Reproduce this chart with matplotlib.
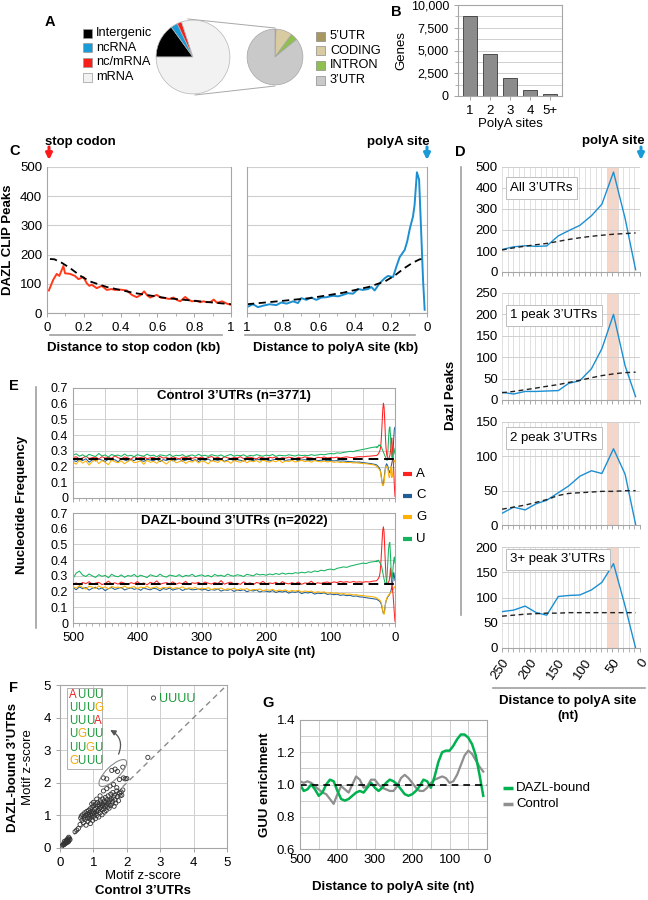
import matplotlib
matplotlib.use('Agg')
import matplotlib.pyplot as plt
from matplotlib.patches import Rectangle, Ellipse, FancyArrowPatch
import numpy as np

plt.rcParams['font.family'] = ['Liberation Sans', 'DejaVu Sans']
plt.rcParams['font.size'] = 9

GRID = '#cfcfcf'
SPINE = '#a6a6a6'

# ---------------- data ----------------
# A: genomic distribution of peaks, and breakdown of mRNA peaks
region_labels = ['Intergenic', 'ncRNA', 'nc/mRNA', 'mRNA']
region_share = [15, 3, 2, 80]
region_colors = ['#000000', '#1b9ad8', '#f5201b', '#f2f2f2']
mrna_labels = ["5’UTR", 'CODING', 'INTRON', "3’UTR"]
mrna_share = [0.6, 9.5, 4.0, 85.9]
mrna_colors = ['#a8975f', '#d9cba1', '#8fbf4e', '#c9c9c9']

# B: polyA sites per gene
polya_sites = ['1', '2', '3', '4', '5+']
polya_genes = [8800, 4650, 1950, 650, 250]

# C: metagene of DAZL CLIP peaks
stop_kb = [0.01, 0.034, 0.053, 0.067, 0.089, 0.098, 0.125, 0.152, 0.171, 0.198,
           0.216, 0.23, 0.243, 0.27, 0.298, 0.325, 0.35, 0.37, 0.40, 0.434,
           0.461, 0.488, 0.51, 0.528, 0.545, 0.561, 0.58, 0.597, 0.62, 0.642,
           0.665, 0.688, 0.705, 0.724, 0.751, 0.77, 0.788, 0.81, 0.833, 0.85,
           0.869, 0.89, 0.906, 0.924, 0.951, 0.978, 1.0]
stop_peaks = [77, 114, 134, 127, 161, 136, 134, 127, 116, 123,
              102, 93, 97, 85, 93, 79, 82, 79, 80, 77,
              62, 54, 62, 74, 60, 53, 58, 62, 52, 51,
              48, 53, 45, 40, 55, 45, 40, 42, 37, 40,
              37, 38, 46, 35, 40, 32, 28]
stop_fit_kb = [0.016, 0.04, 0.08, 0.125, 0.18, 0.234, 0.325, 0.47, 0.65, 0.83, 1.0]
stop_fit = [185, 184, 172, 154, 128, 108, 89, 69, 51, 40, 30]

pa_kb = [0.994, 0.967, 0.939, 0.911, 0.874, 0.837, 0.81, 0.78, 0.744, 0.717,
         0.698, 0.67, 0.643, 0.615, 0.587, 0.56, 0.522, 0.494, 0.467, 0.439,
         0.411, 0.383, 0.356, 0.328, 0.309, 0.291, 0.263, 0.235, 0.217, 0.189,
         0.17, 0.152, 0.124, 0.11, 0.095, 0.078, 0.069, 0.056, 0.044, 0.035,
         0.022, 0.013]
pa_peaks = [22, 30, 20, 25, 30, 27, 36, 32, 40, 34,
            51, 45, 53, 45, 53, 54, 59, 57, 62, 68,
            66, 82, 79, 82, 89, 77, 102, 119, 127, 123,
            159, 191, 216, 245, 290, 330, 370, 482, 457, 319,
            114, 11]
pa_fit_kb = [1.0, 0.83, 0.65, 0.47, 0.325, 0.234, 0.18, 0.125, 0.08, 0.04, 0.01]
pa_fit = [30, 40, 51, 69, 89, 108, 128, 154, 172, 184, 185]

# D: Dazl peaks near polyA site, by number of peaks per 3'UTR
d_nt = [250, 229, 208, 188, 169, 148, 129, 109, 88, 69, 48, 27, 8]
d_all = [107, 120, 125, 122, 124, 172, 197, 222, 268, 323, 476, 255, 11]
d_all_fit = [105, 115, 123, 130, 136, 146, 155, 163, 170, 175, 180, 183, 186]
d_one = [18, 14, 20, 20, 21, 22, 39, 45, 73, 120, 200, 80, 8]
d_one_fit = [17, 20, 24, 28, 32, 36, 41, 46, 52, 57, 61, 64, 65]
d_two = [17, 26, 22, 31, 36, 47, 57, 71, 79, 75, 111, 74, 1]
d_two_fit = [23, 26, 29, 33, 37, 43, 46, 47, 48, 49, 49, 50, 50]
d_three = [72, 75, 83, 70, 65, 102, 104, 105, 115, 130, 167, 83, 0]
d_three_fit = [63, 65, 67, 68, 69, 69, 70, 70, 70, 70, 70, 70, 70]

# E: nucleotide frequency (x1000); 500..30 nt every 5 nt, then 29..0 every nt
e_nt = list(range(500, 29, -5)) + list(range(29, -1, -1))
ctrl_A = [258, 262, 249, 255, 266, 251, 257, 260, 248, 263, 254, 259, 252, 268, 256, 250, 261, 255, 247, 264,
          253, 258, 262, 250, 256, 259, 248, 265, 254, 257, 251, 262, 255, 249, 260, 256, 263, 252, 258, 254,
          261, 250, 257, 264, 253, 259, 248, 262, 256, 251, 258, 255, 263, 250, 257, 260, 254, 249, 261, 256,
          252, 259, 255, 262, 250, 257, 253, 260, 256, 251, 258, 254, 262, 257, 255, 250, 259, 256, 261, 254,
          258, 256, 260, 255, 259, 262, 258, 257, 261, 263, 262, 265, 266, 268, 270,
          270, 272, 276, 280, 288, 296, 308, 336, 395, 478, 560, 603, 580, 500, 400,
          322, 280, 262, 252, 250, 258, 270, 298, 358, 382, 320, 250, 180, 80, 10]
ctrl_C = [240, 232, 246, 238, 250, 228, 243, 236, 248, 241, 233, 247, 239, 244, 230, 249, 242, 235, 245, 238,
          251, 240, 233, 246, 242, 237, 248, 231, 244, 239, 246, 236, 243, 249, 234, 241, 247, 238, 244, 232,
          245, 240, 248, 236, 243, 239, 246, 233, 242, 247, 238, 244, 240, 235, 246, 241, 237, 248, 243, 239,
          244, 236, 242, 247, 240, 245, 238, 243, 241, 246, 237, 242, 244, 239, 241, 243, 238, 240, 242, 237,
          239, 236, 238, 235, 236, 233, 232, 230, 228, 229, 225, 223, 220, 217, 213,
          212, 208, 204, 200, 194, 188, 180, 160, 130, 100, 82, 88, 120, 160, 190,
          208, 218, 210, 200, 180, 170, 160, 180, 200, 220, 240, 300, 380, 440, 450]
ctrl_G = [228, 215, 240, 222, 236, 210, 232, 245, 219, 238, 226, 212, 241, 230, 224, 237, 218, 233, 242, 225,
          229, 236, 214, 240, 227, 233, 221, 239, 230, 216, 235, 243, 224, 231, 238, 220, 234, 228, 241, 223,
          236, 230, 217, 239, 232, 226, 242, 229, 235, 221, 238, 233, 227, 240, 224, 236, 231, 238, 226, 241,
          233, 228, 237, 230, 242, 225, 236, 232, 239, 229, 234, 240, 231, 236, 228, 238, 233, 230, 235, 229,
          233, 227, 230, 226, 228, 225, 227, 223, 224, 221, 220, 218, 215, 212, 207,
          202, 198, 194, 190, 184, 180, 172, 150, 120, 92, 80, 78, 100, 140, 180,
          200, 192, 200, 180, 150, 130, 140, 170, 200, 130, 140, 180, 220, 240, 232]
ctrl_U = [272, 281, 266, 275, 262, 278, 270, 264, 283, 268, 274, 261, 277, 269, 273, 265, 280, 267, 272, 263,
          276, 270, 266, 279, 268, 273, 262, 275, 271, 267, 278, 264, 272, 269, 276, 263, 270, 274, 266, 278,
          268, 272, 265, 276, 270, 267, 274, 263, 271, 277, 266, 272, 269, 275, 264, 271, 268, 276, 270, 266,
          273, 269, 277, 265, 272, 270, 268, 275, 271, 267, 274, 270, 272, 269, 276, 271, 274, 278, 275, 280,
          283, 281, 287, 285, 290, 293, 297, 295, 301, 305, 309, 313, 318, 322, 325,
          320, 328, 322, 330, 338, 332, 338, 330, 322, 312, 302, 292, 282, 272, 262,
          252, 242, 240, 300, 380, 440, 452, 400, 320, 262, 250, 280, 320, 302, 280]
dazl_A = [248, 255, 242, 258, 250, 263, 246, 254, 259, 244, 252, 266, 249, 256, 247, 261, 253, 245, 257, 250,
          264, 248, 255, 243, 259, 251, 268, 246, 253, 257, 249, 262, 247, 255, 250, 265, 244, 256, 252, 259,
          246, 261, 253, 248, 257, 251, 270, 247, 255, 260, 249, 253, 246, 262, 250, 256, 244, 258, 252, 265,
          248, 255, 251, 259, 247, 263, 253, 249, 257, 250, 261, 246, 255, 252, 266, 249, 256, 252, 258, 261,
          254, 262, 257, 265, 259, 263, 258, 264, 260, 262, 259, 263, 261, 266, 268,
          268, 272, 276, 282, 290, 300, 328, 380, 450, 530, 590, 612, 580, 480, 380,
          300, 262, 250, 252, 260, 270, 300, 350, 300, 250, 220, 180, 120, 60, 10]
dazl_C = [224, 212, 230, 218, 226, 209, 221, 228, 215, 223, 206, 219, 225, 213, 220, 227, 210, 218, 224, 214,
          220, 208, 223, 216, 211, 221, 217, 205, 219, 214, 222, 209, 216, 220, 207, 215, 218, 211, 213, 217,
          210, 215, 206, 213, 209, 216, 203, 211, 208, 214, 201, 209, 206, 212, 199, 207, 204, 210, 197, 205,
          202, 198, 206, 194, 201, 197, 203, 190, 198, 195, 200, 187, 194, 191, 196, 184, 190, 187, 192, 182,
          185, 180, 183, 176, 179, 174, 176, 170, 172, 166, 165, 161, 158, 155, 152,
          152, 150, 147, 144, 142, 138, 134, 126, 115, 95, 75, 60, 62, 85, 120,
          138, 150, 160, 168, 172, 178, 186, 195, 210, 228, 250, 280, 320, 300, 270]
dazl_G = [232, 221, 238, 226, 215, 234, 228, 219, 236, 224, 230, 217, 233, 225, 229, 221, 235, 222, 227, 231,
          218, 229, 224, 233, 220, 226, 230, 216, 227, 223, 229, 219, 225, 221, 230, 217, 224, 220, 226, 214,
          222, 218, 225, 212, 220, 216, 223, 211, 218, 214, 221, 209, 217, 213, 219, 207, 214, 211, 217, 205,
          212, 208, 214, 203, 210, 206, 211, 200, 207, 203, 208, 197, 204, 200, 203, 194, 199, 195, 198, 190,
          193, 189, 191, 185, 187, 183, 184, 179, 180, 176, 175, 171, 170, 167, 163,
          160, 158, 155, 152, 150, 146, 142, 135, 125, 105, 80, 60, 55, 75, 110,
          140, 155, 165, 172, 178, 182, 188, 192, 198, 196, 204, 212, 222, 230, 224]
dazl_U = [282, 318, 330, 305, 296, 312, 300, 290, 308, 297, 303, 288, 310, 299, 294, 306, 291, 302, 298, 309,
          293, 304, 297, 289, 307, 300, 295, 311, 298, 292, 305, 301, 296, 308, 293, 303, 299, 310, 295, 302,
          306, 297, 303, 293, 309, 300, 304, 296, 311, 302, 298, 307, 303, 296, 310, 305, 300, 313, 306, 309,
          304, 312, 307, 315, 309, 318, 311, 316, 313, 320, 317, 323, 319, 326, 322, 331, 327, 336, 332, 340,
          343, 338, 348, 352, 357, 354, 362, 366, 372, 376, 381, 378, 386, 389, 392,
          390, 398, 392, 400, 394, 386, 382, 372, 362, 344, 322, 300, 280, 262, 252,
          250, 262, 320, 400, 470, 505, 512, 430, 330, 280, 300, 350, 400, 420, 380]

# F: motif z-scores, control vs DAZL-bound 3'UTRs
motif_ctrl = [0.05, 0.08, 0.10, 0.12, 0.14, 0.15, 0.17, 0.18, 0.20, 0.21, 0.22, 0.24, 0.25, 0.27, 0.28,
              0.30, 0.19, 0.23, 0.26, 0.13, 0.45, 0.50,
              0.55, 0.60, 0.62, 0.64, 0.66, 0.68, 0.70, 0.72, 0.74, 0.75, 0.77, 0.78, 0.80, 0.81, 0.82,
              0.84, 0.85, 0.86, 0.88, 0.89, 0.90, 0.91, 0.92, 0.93, 0.95, 0.96, 0.97, 0.98, 1.00, 1.01,
              1.02, 1.03, 1.05, 1.06, 1.07, 1.08, 1.10, 1.11, 1.12, 1.13, 1.15, 1.16, 1.17, 1.18, 1.20,
              1.21, 1.22, 1.23, 1.25, 1.26, 1.27, 1.28, 1.30, 1.31, 1.32, 1.33, 1.35, 1.36, 1.37, 1.38,
              1.40, 1.41, 1.42, 1.44, 1.45, 1.47, 1.48, 1.50, 1.52, 1.53, 1.55, 1.57, 1.58, 1.60, 1.62,
              1.63, 1.65, 1.67, 1.70, 1.72, 1.75, 1.78, 1.80, 1.83, 1.85, 1.88, 1.90, 1.95, 2.00, 1.40,
              1.30, 1.20, 1.10, 1.50, 1.60, 1.70, 1.00, 0.95,
              1.30, 1.40, 1.55, 1.65, 1.72, 1.78, 1.88, 2.63, 2.80]
motif_dazl = [0.05, 0.09, 0.12, 0.10, 0.16, 0.13, 0.18, 0.15, 0.22, 0.17, 0.20, 0.25, 0.19, 0.23, 0.30,
              0.26, 0.24, 0.28, 0.33, 0.20, 0.50, 0.55,
              0.60, 0.72, 0.92, 0.98, 0.85, 1.02, 0.78, 0.95, 1.08, 0.88, 1.00, 0.70, 1.12, 0.92, 1.05,
              0.82, 1.15, 0.98, 1.08, 0.90, 1.20, 0.75, 1.02, 1.12, 0.95, 1.25, 1.05, 0.85, 1.10, 1.30,
              0.98, 1.18, 1.05, 0.90, 1.22, 1.35, 1.12, 1.00, 1.28, 1.40, 1.15, 0.95, 1.32, 1.22, 1.08,
              1.45, 1.25, 1.38, 1.18, 1.02, 1.30, 1.50, 1.35, 1.20, 1.42, 1.10, 1.28, 1.55, 1.40, 1.15,
              1.32, 1.48, 1.25, 1.60, 1.38, 1.22, 1.45, 1.30, 1.65, 1.50, 1.35, 1.42, 1.70, 1.55, 1.28,
              1.62, 1.48, 1.38, 1.75, 1.58, 1.45, 1.68, 1.60, 1.72, 1.62, 1.78, 2.15, 2.12, 2.13, 1.82,
              1.75, 1.60, 1.50, 1.90, 1.95, 1.85, 1.40, 1.35,
              2.15, 2.12, 2.38, 2.42, 2.35, 2.10, 2.48, 2.78, 4.60]
motif_list = ['AUUU', 'UUUG', 'UUUA', 'UGUU', 'UUGU', 'GUUU']
base_colors = {'A': '#ee2222', 'U': '#1a9a3a', 'G': '#f5a800'}

# G: GUU enrichment near polyA site
guu_nt = list(range(500, 0, -10))
guu_dazl = [1.00, 0.96, 0.97, 1.00, 0.97, 0.93, 0.95, 1.00, 1.03, 1.02,
            0.96, 0.91, 0.90, 0.91, 0.93, 0.95, 0.96, 0.95, 0.98, 1.01,
            0.98, 0.96, 0.98, 1.01, 1.03, 1.02, 1.00, 0.97, 0.94, 0.93,
            0.94, 0.96, 0.99, 1.03, 1.02, 0.98, 1.05, 1.14, 1.20, 1.21,
            1.21, 1.24, 1.28, 1.31, 1.31, 1.29, 1.25, 1.18, 1.06, 0.93]
guu_ctrl = [1.02, 1.01, 1.02, 1.01, 0.99, 0.97, 0.95, 0.94, 0.91, 0.88,
            0.94, 0.99, 0.97, 0.95, 1.00, 1.05, 1.03, 0.98, 0.99, 1.03,
            1.03, 1.00, 0.98, 0.97, 0.96, 0.96, 0.99, 1.04, 1.06, 1.04,
            1.01, 0.98, 0.96, 0.96, 0.98, 1.01, 1.03, 1.04, 1.05, 1.04,
            1.01, 1.02, 1.06, 1.12, 1.18, 1.21, 1.19, 1.15, 1.11, 1.08]


def box(x0, y0, x1, y1):
    # pixel rectangle (origin top-left) -> figure fraction rect
    return [x0 / 648, 1 - y1 / 900, (x1 - x0) / 648, (y1 - y0) / 900]


def gray_spines(ax, which=('left', 'right', 'top', 'bottom')):
    for side, sp in ax.spines.items():
        sp.set_visible(side in which)
        sp.set_color(SPINE)
        sp.set_linewidth(0.8)
    ax.tick_params(colors=SPINE, labelcolor='black', length=3, width=0.7)
    ax.tick_params(which='minor', colors=SPINE, length=2, width=0.6)
    ax.set_axisbelow(True)


fig = plt.figure(figsize=(6.48, 9.0), dpi=100)
ov = fig.add_axes([0, 0, 1, 1])
ov.set_xlim(0, 648)
ov.set_ylim(900, 0)
ov.axis('off')


def label(x, y, s, **kw):
    kw.setdefault('va', 'center')
    ov.text(x, y, s, **kw)


def arrow_down(x, y0, y1, color):
    ov.annotate('', xy=(x, y1), xytext=(x, y0),
                arrowprops=dict(arrowstyle='-|>', color=color, lw=2.2, mutation_scale=9,
                                shrinkA=0, shrinkB=0))


# ---------------- A ----------------
label(50, 22, 'A', fontsize=10.5, fontweight='bold', ha='center')
axp1 = fig.add_axes(box(155, 19, 231, 95))
axp1.pie(region_share, colors=region_colors, startangle=180, counterclock=False,
         wedgeprops=dict(edgecolor='#b5b5b5', linewidth=0.5))
axp1.set_xlim(-1.03, 1.03)
axp1.set_ylim(-1.03, 1.03)
axp2 = fig.add_axes(box(246, 28, 304, 86))
axp2.pie(mrna_share, colors=mrna_colors, startangle=90, counterclock=False,
         wedgeprops=dict(edgecolor='#a5a5a5', linewidth=0.5))
axp2.set_xlim(-1.04, 1.04)
axp2.set_ylim(-1.04, 1.04)
ov.plot([188, 275], [19, 28], color='#a8a8a8', lw=0.7)
ov.plot([195, 275], [95, 86], color='#a8a8a8', lw=0.7)

for i, (name, col) in enumerate(zip(region_labels, region_colors)):
    y = 33 + i * 14.7
    ov.add_patch(Rectangle((83, y - 4.5), 9, 9, fc=col, ec='#9a9a9a', lw=0.5))
    label(96, y, name, fontsize=9.2)
for i, (name, col) in enumerate(zip(mrna_labels, mrna_colors)):
    y = 36 + i * 14.7
    ov.add_patch(Rectangle((316, y - 4.5), 9, 9, fc=col, ec='#8a8a8a', lw=0.5))
    label(330, y, name, fontsize=9.2)

# ---------------- B ----------------
label(396, 12, 'B', fontsize=10.5, fontweight='bold', ha='center')
axb = fig.add_axes(box(458, 5, 562, 96))
axb.bar(polya_sites, polya_genes, width=0.72, color='#8c8c8c', edgecolor='#3a3a3a', lw=0.6)
axb.set_ylim(0, 10000)
axb.set_yticks([0, 2500, 5000, 7500, 10000])
axb.set_yticklabels(['0', '2,500', '5,000', '7,500', '10,000'], fontsize=9)
axb.set_yticks(np.arange(0, 10001, 1250), minor=True)
axb.grid(axis='y', which='both', color=GRID, lw=0.7)
axb.tick_params(axis='x', labelsize=9.5, length=0)
axb.tick_params(axis='y', which='minor', length=0)
gray_spines(axb, ('left', 'right', 'bottom', 'top'))
axb.set_ylabel('Genes', fontsize=9.5, labelpad=2)
axb.set_xlabel('PolyA sites', fontsize=9.5, labelpad=1)

# ---------------- C ----------------
label(15, 151, 'C', fontsize=10.5, fontweight='bold', ha='center')
label(45, 142, 'stop codon', fontsize=9.5, fontweight='bold')
arrow_down(49, 147, 160, '#ff1a1a')
label(430, 142, 'polyA site', fontsize=9.5, fontweight='bold', ha='right')
arrow_down(427, 147, 160, '#1b9ad8')

axc1 = fig.add_axes(box(47, 167, 231, 313))
axc1.plot(stop_kb, stop_peaks, color='#ff3a1a', lw=1.4)
axc1.plot(stop_fit_kb, stop_fit, color='black', lw=1.3, ls=(0, (4, 2.5)))
axc1.set_xlim(0, 1)
axc2 = fig.add_axes(box(247, 167, 427, 313))
axc2.plot(pa_kb, pa_peaks, color='#1b8fd2', lw=1.4)
axc2.plot(pa_fit_kb, pa_fit, color='black', lw=1.3, ls=(0, (4, 2.5)))
axc2.set_xlim(1, 0)
for ax in (axc1, axc2):
    ax.set_ylim(0, 500)
    ax.set_yticks(np.arange(0, 501, 100))
    ax.set_xticks(np.arange(0, 1.01, 0.2))
    ax.set_xticks(np.arange(0, 1.01, 0.1), minor=True)
    ax.set_xticklabels(['0', '0.2', '0.4', '0.6', '0.8', '1'], fontsize=9.5)
    ax.grid(axis='y', color=GRID, lw=0.8)
    gray_spines(ax, ('left', 'right', 'bottom'))
axc1.tick_params(axis='y', labelsize=9.5, length=0)
axc2.tick_params(axis='y', labelleft=False, length=0)
axc1.set_ylabel('DAZL CLIP Peaks', fontsize=9.5, fontweight='bold', labelpad=4)
ov.plot([50, 222], [335, 335], color='#a0a0a0', lw=1.2)
ov.plot([245, 415], [335, 335], color='#a0a0a0', lw=1.2)
label(134, 348, 'Distance to stop codon (kb)', fontsize=9.5, fontweight='bold', ha='center')
label(336, 348, 'Distance to polyA site (kb)', fontsize=9.5, fontweight='bold', ha='center')

# ---------------- D ----------------
label(460, 152, 'D', fontsize=10.5, fontweight='bold', ha='center')
label(645, 141, 'polyA site', fontsize=9.5, fontweight='bold', ha='right')
arrow_down(641, 147, 160, '#1b9ad8')
ov.plot([461, 461], [167, 615], color='#a0a0a0', lw=1.2)
label(451, 395, 'Dazl Peaks', fontsize=9.5, fontweight='bold', ha='center', rotation=90)

d_panels = [
    (box(502, 167, 640, 272), d_all, d_all_fit, 500, 100, 'All 3’UTRs', 0.80),
    (box(502, 293, 640, 400), d_one, d_one_fit, 250, 50, '1 peak 3’UTRs', 0.79),
    (box(502, 422, 640, 525), d_two, d_two_fit, 150, 50, '2 peak 3’UTRs', 0.845),
    (box(502, 547, 640, 648), d_three, d_three_fit, 200, 50, '3+ peak 3’UTRs', 0.88),
]
for i, (rect, vals, fit, ymax, step, name, ty) in enumerate(d_panels):
    ax = fig.add_axes(rect)
    ax.axvspan(38, 59, color='#f9d5c5', lw=0, zorder=0.5)
    ax.plot(d_nt, vals, color='#1b8fd2', lw=1.0, zorder=3)
    ax.plot(d_nt, fit, color='#222222', lw=1.0, ls=(0, (3.5, 2.5)), zorder=3)
    ax.set_xlim(250, 0)
    ax.set_ylim(0, ymax)
    ax.set_yticks(np.arange(0, ymax + 1, step))
    ax.set_xticks(np.arange(0, 251, 50))
    ax.set_xticks(np.arange(0, 251, 10), minor=True)
    ax.grid(axis='x', which='both', color='#dcdcdc', lw=0.6)
    ax.grid(axis='y', which='major', color=GRID, lw=0.7)
    gray_spines(ax, ('bottom',))
    ax.tick_params(axis='y', length=0, labelsize=9.5, pad=3)
    ax.tick_params(axis='x', which='both', length=3)
    ax.text(0.06, ty, name, transform=ax.transAxes, fontsize=9.5, va='center', ha='left',
            bbox=dict(boxstyle='square,pad=0.35', fc='white', ec='#bdbdbd', lw=0.7), zorder=5)
    if i == 3:
        ax.set_xticklabels(['0', '50', '100', '150', '200', '250'], rotation=55,
                           ha='right', va='top', rotation_mode='anchor', fontsize=9.5)
    else:
        ax.tick_params(axis='x', labelbottom=False)
ov.plot([493, 645], [688, 688], color='#a0a0a0', lw=1.2)
label(568, 701, 'Distance to polyA site', fontsize=9.5, fontweight='bold', ha='center')
label(568, 716, '(nt)', fontsize=9.5, fontweight='bold', ha='center')

# ---------------- E ----------------
label(14, 386, 'E', fontsize=10.5, fontweight='bold', ha='center')
ov.plot([36, 36], [387, 628], color='#a0a0a0', lw=1.2)
label(22, 505, 'Nucleotide Frequency', fontsize=9.5, fontweight='bold', ha='center', rotation=90)
nuc_colors = {'A': '#ff2020', 'C': '#1f5f94', 'G': '#ffb000', 'U': '#16b35e'}
e_sets = [
    (box(73, 388, 395, 498), {'A': ctrl_A, 'C': ctrl_C, 'G': ctrl_G, 'U': ctrl_U},
     'Control 3’UTRs (n=3771)', False),
    (box(73, 513, 395, 623), {'A': dazl_A, 'C': dazl_C, 'G': dazl_G, 'U': dazl_U},
     'DAZL-bound 3’UTRs (n=2022)', True),
]
for rect, series, title, show_x in e_sets:
    ax = fig.add_axes(rect)
    for base in ['C', 'G', 'A', 'U']:
        ax.plot(e_nt, np.array(series[base]) / 1000, color=nuc_colors[base], lw=0.75)
    ax.axhline(0.25, color='black', lw=1.4, ls=(0, (5, 3)), zorder=4)
    ax.set_xlim(500, 0)
    ax.set_ylim(0, 0.7)
    ax.set_xticks(np.arange(0, 501, 50))
    ax.set_xticks(np.arange(0, 501, 10), minor=True)
    ax.set_yticks(np.arange(0, 0.71, 0.1))
    ax.set_yticklabels(['0'] + ['%.1f' % v for v in np.arange(0.1, 0.71, 0.1)], fontsize=9)
    ax.grid(which='major', color=GRID, lw=0.7)
    gray_spines(ax)
    ax.tick_params(axis='y', length=0)
    ax.text(0.5, 0.93, title, transform=ax.transAxes, ha='center', va='center',
            fontsize=9.5, fontweight='bold')
    if show_x:
        ax.set_xticklabels(['' if v % 100 else str(v) for v in range(0, 501, 50)], fontsize=9.5)
    else:
        ax.tick_params(axis='x', labelbottom=False)
for i, base in enumerate(['A', 'C', 'G', 'U']):
    y = 474 + i * 21.5
    ov.plot([403, 412], [y, y], color=nuc_colors[base], lw=3, solid_capstyle='butt')
    label(416, y, base, fontsize=9.5)
label(234, 652, 'Distance to polyA site (nt)', fontsize=9.5, fontweight='bold', ha='center')

# ---------------- F ----------------
label(14, 688, 'F', fontsize=10.5, fontweight='bold', ha='center')
axf = fig.add_axes(box(60, 685, 227, 848))
axf.plot([0, 5], [0, 5], color='#8a8a8a', lw=1.0, ls=(0, (4, 3)), zorder=1)
axf.scatter(motif_ctrl, motif_dazl, s=9, facecolors='none', edgecolors='#333333',
            linewidths=0.6, zorder=3)
axf.set_xlim(0, 5)
axf.set_ylim(0, 5)
axf.set_xticks(range(6))
axf.set_yticks(range(6))
axf.tick_params(labelsize=9.5, length=0)
axf.grid(color=GRID, lw=0.7)
gray_spines(axf)
axf.add_patch(Rectangle((0.2, 2.42), 1.07, 2.5, fc='white', ec='#b0b0b0', lw=0.7, zorder=4))
for k, motif in enumerate(motif_list):
    yy = 4.69 - k * 0.402
    for j, ch in enumerate(motif):
        axf.annotate(ch, xy=(0.27, yy), xytext=(j * 6.0, 0), textcoords='offset points',
                     color=base_colors[ch], fontsize=8.3, va='center', ha='left', zorder=5)
axf.add_patch(Ellipse((1.58, 2.3), 1.1, 0.4, angle=45, fc='none', ec='#8a8a8a', lw=0.8, zorder=4))
axf.add_patch(FancyArrowPatch((1.72, 2.8), (1.43, 3.66), connectionstyle='arc3,rad=0.5',
                              arrowstyle='-|>', mutation_scale=8, color='#555555', lw=0.9, zorder=4))
axf.text(2.95, 4.58, 'UUUU', color=base_colors['U'], fontsize=9, va='center', ha='left')
label(143, 876, 'Motif z-score', fontsize=9.5, ha='center')
label(143, 891, 'Control 3’UTRs', fontsize=9.5, fontweight='bold', ha='center')
label(13, 767, 'DAZL-bound 3’UTRs', fontsize=9.5, fontweight='bold', ha='center', rotation=90)
label(28, 767, 'Motif z-score', fontsize=9.5, ha='center', rotation=90)

# ---------------- G ----------------
label(268, 703, 'G', fontsize=10.5, fontweight='bold', ha='center')
axg = fig.add_axes(box(300, 720, 487, 849))
axg.plot(guu_nt, guu_ctrl, color='#8f8f8f', lw=1.6)
axg.plot(guu_nt, guu_dazl, color='#00b14f', lw=1.8)
axg.axhline(1.0, color='black', lw=1.2, ls=(0, (4, 3)))
axg.set_xlim(500, 0)
axg.set_ylim(0.6, 1.4)
axg.set_xticks(np.arange(0, 501, 50))
axg.set_xticklabels(['' if v % 100 else str(v) for v in range(0, 501, 50)], fontsize=9.5)
axg.set_yticks([0.6, 0.8, 1.0, 1.2, 1.4])
axg.set_yticklabels(['0.6', '0.8', '1.0', '1.2', '1.4'], fontsize=9.5)
axg.set_yticks(np.arange(0.6, 1.41, 0.1), minor=True)
axg.grid(which='both', color=GRID, lw=0.7)
gray_spines(axg, ('left', 'right', 'top', 'bottom'))
axg.tick_params(which='both', length=0)
axg.set_ylabel('GUU enrichment', fontsize=9.5, fontweight='bold', labelpad=4)
label(393, 887, 'Distance to polyA site (nt)', fontsize=9.5, fontweight='bold', ha='center')
ov.plot([503, 513], [788, 788], color='#00b14f', lw=2.5, solid_capstyle='butt')
label(516, 788, 'DAZL-bound', fontsize=9.5)
ov.plot([503, 513], [804, 804], color='#8f8f8f', lw=2.5, solid_capstyle='butt')
label(516, 804, 'Control', fontsize=9.5)

fig.savefig('out.png', dpi=100)
